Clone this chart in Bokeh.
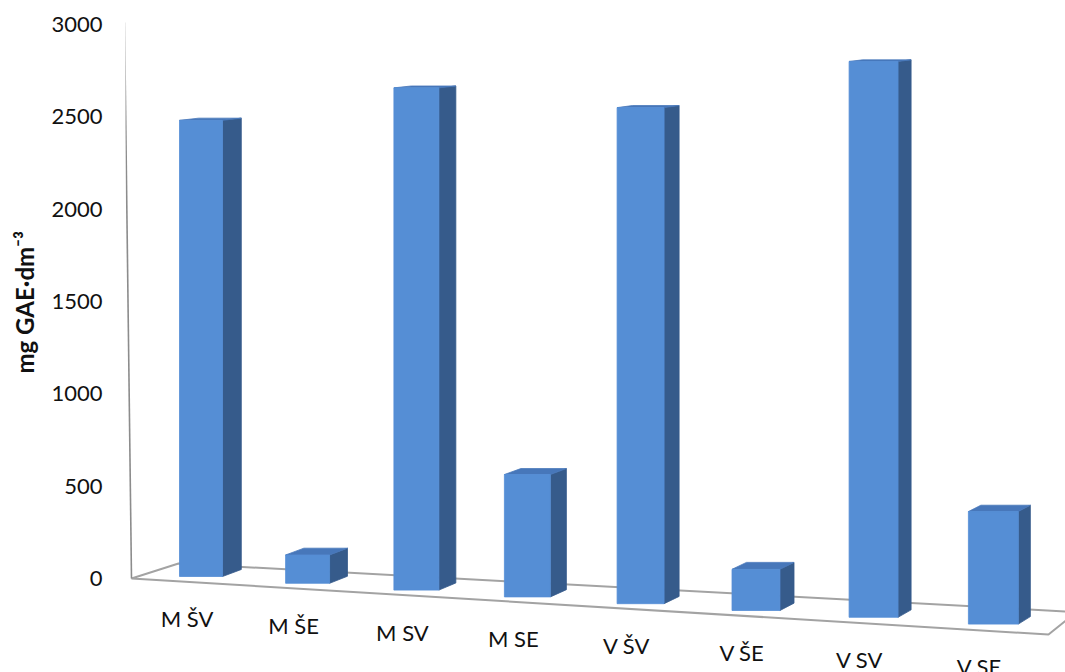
import numpy as np
from bokeh.plotting import figure
from bokeh.models import Range1d, FixedTicker, ColumnDataSource, Title
from bokeh.core.properties import value
from bokeh.embed import file_html
from bokeh.resources import INLINE

# Total phenolics per sample (mg GAE per dm3)
categories = ["M ŠV", "M ŠE", "M SV", "M SE", "V ŠV", "V ŠE", "V SV", "V SE"]
gae = [2470, 150, 2600, 620, 2460, 200, 2645, 525]
y_ticks = [0, 500, 1000, 1500, 2000, 2500, 3000]

W, H = 1065, 672
LEFT = 125
PX_PER_UNIT = 0.18467   # screen pixels per mg GAE on the value axis
ZERO_ROW = 578          # screen row of the zero tick

FRONT = "#558ED5"
TOP = "#4777BA"
SIDE = "#365B8B"
FLOOR = "#A3A3A3"


def to_val(row):
    """Screen row -> value-axis units."""
    return (ZERO_ROW - row) / PX_PER_UNIT


# Oblique floor: each slot sits lower and a little larger further right
def slot(i):
    x = 179 + 105 * i + 1.1 * i * i
    row = 576 + 6.8 * i
    scale = 1 + 0.023 * i
    return x, row, scale


def depth(x, row):
    """Receding edge of a column at a screen point (dx, drow)."""
    return 19 - 0.0085 * (x - 200), -0.0105 * (row + 91)


p = figure(width=W, height=H, output_backend="svg", toolbar_location=None,
           x_range=Range1d(LEFT, W), y_range=Range1d(to_val(H), to_val(0)),
           min_border_left=LEFT, min_border_right=0, min_border_top=0,
           min_border_bottom=0, outline_line_color=None,
           background_fill_color="white", border_fill_color="white")
p.xaxis.visible = False
p.xgrid.visible = False
p.ygrid.visible = False

yax = p.yaxis[0]
yax.ticker = FixedTicker(ticks=y_ticks)
yax.axis_line_color = None
yax.major_tick_line_color = None
yax.minor_tick_line_color = None
yax.major_tick_out = 0
yax.major_label_standoff = 23
yax.major_label_text_font = "Lato"
yax.major_label_text_font_size = "22px"
yax.major_label_text_color = "#111111"

# value-axis title; starts 299 px above the bottom edge so it centres on 0-3000
p.add_layout(Title(text="mg GAE·dm⁻³", align="left", offset=299,
                   vertical_align="top", text_line_height=0.7,
                   text_font="Lato", text_font_style="bold",
                   text_font_size="24px", text_color="#111111",
                   standoff=16), "left")

# floor outline and the vertical wall edge
floor_x = [131, 178, 1076, 1048]
floor_r = [578, 563, 611.5, 634]
p.patch(floor_x, [to_val(r) for r in floor_r], fill_color="white",
        line_color=FLOOR, line_width=2)
p.line([131, 124], [to_val(578), to_val(22)], line_color="#8C8C8C", line_width=1.6)

fronts = dict(left=[], right=[], bottom=[], top=[])
sides_x, sides_y, tops_x, tops_y = [], [], [], []
lab_x, lab_y = [], []
for i, v in enumerate(gae):
    x0, r0, s = slot(i)
    x1 = x0 + 43 * s
    rt = r0 - v * PX_PER_UNIT * s
    fronts["left"].append(x0)
    fronts["right"].append(x1)
    fronts["bottom"].append(to_val(r0))
    fronts["top"].append(to_val(rt))
    dxb, drb = depth(x1, r0)
    dxt, drt = depth(x1, rt)
    dxl, drl = depth(x0, rt)
    sides_x.append([x1, x1, x1 + dxt, x1 + dxb])
    sides_y.append([to_val(r0), to_val(rt), to_val(rt + drt), to_val(r0 + drb)])
    tops_x.append([x0, x1, x1 + dxt, x0 + dxl])
    tops_y.append([to_val(rt), to_val(rt), to_val(rt + drt), to_val(rt + drl)])
    lab_x.append((x0 + x1) / 2 - 14)
    lab_y.append(to_val(r0 + 42))

p.patches(sides_x, sides_y, fill_color=SIDE, line_color=SIDE, line_width=0.8)
p.patches(tops_x, tops_y, fill_color=TOP, line_color=TOP, line_width=0.8)
p.quad(source=ColumnDataSource(fronts), left="left", right="right",
       bottom="bottom", top="top", fill_color=FRONT, line_color=FRONT,
       line_width=0.8)

p.text(x=lab_x, y=lab_y, text=categories, text_align="center",
       text_baseline="middle", text_font=value("Lato"),
       text_font_size="22px", text_color="#111111")

open("out.html", "w").write(file_html(p, INLINE))
